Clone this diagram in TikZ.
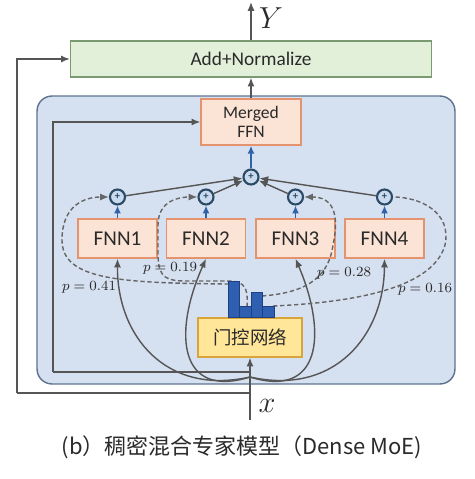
\documentclass[tikz,border=0pt]{standalone}
\usepackage[no-math]{fontspec}
\setmainfont{Carlito}
\newfontfamily\cjk{Noto Sans CJK SC}
\usetikzlibrary{arrows.meta}
\definecolor{moefill}{HTML}{D5E0F0}
\definecolor{moedraw}{HTML}{5F7391}
\definecolor{addfill}{HTML}{E2F0D9}
\definecolor{adddraw}{HTML}{7A9A72}
\definecolor{ofill}{HTML}{FBE3D6}
\definecolor{odraw}{HTML}{E4936E}
\definecolor{gfill}{HTML}{FFE699}
\definecolor{gdraw}{HTML}{D9A53A}
\definecolor{barfill}{HTML}{2F5FB0}
\definecolor{bardraw}{HTML}{1E3F80}
\definecolor{lgray}{HTML}{555555}
\definecolor{dgray}{HTML}{666666}
\definecolor{bluearr}{HTML}{2F62A8}
\definecolor{cring}{HTML}{2B4A66}
\definecolor{cfill}{HTML}{C9DAEE}
\definecolor{txt}{HTML}{2A2A2A}
\begin{document}
\begin{tikzpicture}[x=0.02cm,y=-0.02cm,
  moebox/.style={draw=moedraw,fill=moefill,line width=0.8pt,rounded corners=0.3cm,minimum width=8.36cm,minimum height=5.76cm},
  addbox/.style={draw=adddraw,fill=addfill,line width=0.8pt,minimum width=7.22cm,minimum height=0.72cm,font=\fontsize{11}{11}\selectfont,text=txt},
  obox/.style={draw=odraw,fill=ofill,line width=0.8pt,text=txt,inner sep=0pt},
  fnn/.style={obox,minimum width=1.58cm,minimum height=0.78cm,font=\fontsize{12}{12}\selectfont},
  gatebox/.style={draw=gdraw,fill=gfill,line width=0.8pt,minimum width=2.08cm,minimum height=0.78cm,font=\cjk\fontsize{10.5}{10.5}\selectfont,text=txt},
  bar/.style={draw=bardraw,fill=barfill,line width=0.5pt,anchor=south,minimum width=0.23cm,inner sep=0pt},
  sumc/.style={circle,draw=cring,fill=cfill,line width=1.2pt,minimum size=0.3cm,inner sep=0pt,font=\fontsize{6}{6}\selectfont\bfseries,text=cring},
  garrow/.style={draw=lgray,line width=0.8pt,-{Latex[length=5pt,width=4pt]}},
  gline/.style={draw=lgray,line width=0.8pt},
  barrow/.style={draw=bluearr,line width=1pt,-{Latex[length=4.5pt,width=4pt]}},
  darrow/.style={draw=dgray,line width=0.8pt,dashed,dash pattern=on 2.5pt off 1.5pt,-{Latex[length=5pt,width=4pt]}},
  dline/.style={draw=dgray,line width=0.8pt,dash pattern=on 2.5pt off 1.5pt},
  plabel/.style={font=\footnotesize,text=txt,inner sep=0.5pt}]
\useasboundingbox (0,0) rectangle (474,479);
\fill[white] (0,0) rectangle (474,479);

% containers and boxes
\node[moebox] (moe) at (246,240) {};
\node[addbox] (add) at (251,59) {Add+Normalize};
\node[obox,minimum width=2.0cm,minimum height=0.92cm,font=\fontsize{10}{11}\selectfont,align=center] (merged) at (251,122) {Merged\\FFN};
\node[fnn] (f1) at (117.5,238.5) {FNN1};
\node[fnn] (f2) at (206,238.5) {FNN2};
\node[fnn] (f3) at (295.5,238.5) {FNN3};
\node[fnn] (f4) at (384.5,238.5) {FNN4};
\node[gatebox] (gate) at (250,337.5) {门控网络};

% sum circles
\node[sumc] (c1) at (117.5,197) {+};
\node[sumc] (c2) at (206,197) {+};
\node[sumc] (c3) at (295.5,197) {+};
\node[sumc] (c4) at (384.5,197) {+};
\node[sumc] (ct) at (251,177) {+};

% outputs
\coordinate (yout) at (251,2);
\draw[garrow] (add.north) -- (yout);
\node[font=\fontsize{16}{16}\selectfont,text=txt] (ylab) at (271,18) {$Y$};
\draw[garrow] (merged.north) -- (add.south);
\draw[barrow] (ct) -- (merged.south);
\foreach \i in {1,2,3,4}{
  \draw[barrow] (f\i.north) -- (c\i.south);
  \draw[garrow] (c\i) -- (ct);
}

% input and residual lines
\coordinate (xin) at (250,420);
\coordinate (split) at (250,377);
\coordinate (ob) at (250,393);
\coordinate (ol) at (17,393);
\coordinate (ib) at (250,372);
\coordinate (il) at (53,372);
\draw[gline] (ob) -- (ol);
\draw[garrow] (ol) |- (add.west);
\draw[gline] (ib) -- (il);
\draw[garrow] (il) |- (merged.west);
\draw[garrow] (xin) -- (gate.south);
\node[font=\fontsize{17}{17}\selectfont,text=txt] (xlab) at (267,406) {$x$};

% curves to experts
\draw[garrow] (split) .. controls (165,396) and (117,335) .. (f1.south);
\draw[garrow] (split) .. controls (180,399) and (172,335) .. (f2.south);
\draw[garrow] (split) .. controls (320,399) and (328,335) .. (f3.south);
\draw[garrow] (split) .. controls (335,396) and (384,335) .. (f4.south);

% dashed gating weights
\coordinate (s1) at (229,284);
\coordinate (s2) at (247,307);
\coordinate (s3) at (262,296);
\coordinate (s4) at (273,306);
\draw[darrow] (s1) .. controls (120,283) and (62,280) .. (62,240)
  .. controls (62,205) and (85,197) .. (c1.west);
\draw[darrow] (s2) .. controls (249,282) and (240,281) .. (225,281)
  -- (185,281) .. controls (160,281) and (158,272) .. (158,250)
  -- (158,225) .. controls (158,200) and (180,197) .. (c2.west);
\draw[darrow] (s3) .. controls (300,293) and (328,282) .. (333,245)
  .. controls (340,212) and (332,197) .. (c3.east);
\draw[dline] (s4) .. controls (340,303) and (432,292) .. (445,245)
  .. controls (452,212) and (420,197) .. (c4.east);

% histogram bars
\node[bar,minimum height=0.72cm] (b1) at (234,318) {};
\node[bar,minimum height=0.22cm] (b2) at (245.5,318) {};
\node[bar,minimum height=0.50cm] (b3) at (257,318) {};
\node[bar,minimum height=0.22cm] (b4) at (268.5,318) {};

% probability labels
\node[plabel] (p1) at (89,287) {$p=0.41$};
\node[plabel] (p2) at (170,268) {$p=0.19$};
\node[plabel] (p3) at (344,273) {$p=0.28$};
\node[plabel] (p4) at (425,289) {$p=0.16$};

% caption
\node[font=\cjk\fontsize{12.5}{12.5}\selectfont,text=txt] (cap) at (242,447) {(b）稠密混合专家模型（Dense MoE)};
\end{tikzpicture}
\end{document}
